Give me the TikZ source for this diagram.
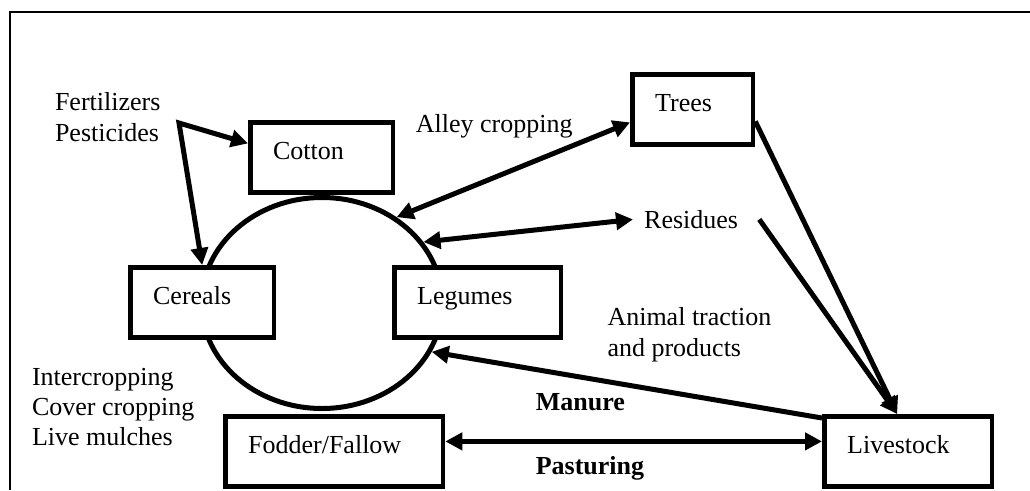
\documentclass[tikz,border=0pt]{standalone}
\usepackage{fontspec}
\setmainfont{Liberation Serif}
\usetikzlibrary{arrows.meta,shapes.geometric}

\tikzset{
  box/.style={draw,fill=white,line width=4.8pt,anchor=north west,align=left,
    inner xsep=22.75pt,inner ysep=0pt,text height=37pt,text depth=33pt},
  txt/.style={inner sep=8.7pt,align=left},
}

\begin{document}
\begin{tikzpicture}[x=1pt,y=-1pt,>={Triangle[length=17pt,width=17pt]},line width=5pt,
  every node/.style={font=\fontsize{26}{31}\selectfont}]
  \useasboundingbox (0,0) rectangle (1030,490);
  % frame, open at the right and at the bottom
  \draw[line width=2pt] (10,490) |- (1030,12);

  % crop rotation
  \node[draw,ellipse,line width=5pt,minimum width=241pt,minimum height=211pt,inner sep=0pt]
    (rotation) at (322,303) {};

  \node[box,text width=97pt]  (cotton)    at (248,120) {Cotton};
  \node[box,text width=75pt]  (trees)     at (630,72)  {Trees};
  \node[box,text width=98pt]  (cereals)   at (128,265) {Cereals};
  \node[box,text width=121pt] (legumes)   at (392,265) {Legumes};
  \node[box,text width=172pt] (fodder)    at (223,414) {Fodder/Fallow};
  \node[box,text width=122pt] (livestock) at (822,414) {Livestock};

  \node[txt,anchor=north west] (inputs) at (43.8,80.8) {Fertilizers\\Pesticides};
  \node[txt,anchor=base west] (alley) at (404.6,132.3) {Alley cropping};
  \node[txt,anchor=base west] (residues) at (633,228.3) {Residues};
  \node[txt,anchor=north west] (traction) at (596.3,296.2) {Animal traction\\and products};
  \node[txt,anchor=base west,font=\fontsize{26}{31}\selectfont\bfseries] (manure) at (524.6,410.7) {Manure};
  \node[txt,anchor=base west,font=\fontsize{26}{31}\selectfont\bfseries] (pasturing) at (524.6,474) {Pasturing};
  \node[txt,anchor=north west,font=\fontsize{26}{30}\selectfont] (mixing) at (20.8,357.5)
    {Intercropping\\Cover cropping\\Live mulches};

  % flows
  \coordinate (split) at (179,123);
  \draw[<->] ([yshift=14pt]cotton.west) -- (split) -- (cereals.north);
  \draw[<->] (rotation.49) -- ([yshift=-13pt]trees.west);
  \draw[<->] (rotation.31) -- (residues.west);
  \draw[->] ([yshift=-12pt]trees.east) -- ([xshift=-11pt]livestock.north);
  \draw[->] ([xshift=10pt]residues.east) -- ([xshift=-11pt]livestock.north);
  \draw[->] ([yshift=-4pt]livestock.north west) -- (rotation.-24);
  \draw[<->] ([yshift=10pt]fodder.east) -- ([yshift=10pt]livestock.west);
\end{tikzpicture}
\end{document}
